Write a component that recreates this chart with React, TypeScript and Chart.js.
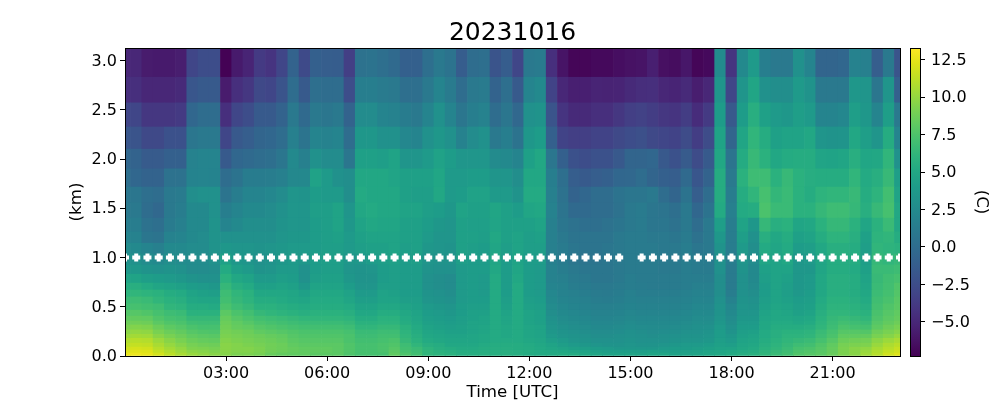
import { useEffect, useRef } from "react";
import { Chart, registerables } from "chart.js";

Chart.register(...registerables);

const chartTitle = "20231016";
const colorMin = -7.27;
const colorMax = 13.27;
const xTicks = [180, 360, 540, 720, 900, 1080, 1260];
const yTicks = [0, 0.5, 1, 1.5, 2, 2.5, 3];
const colorTicks = [-5, -2.5, 0, 2.5, 5, 7.5, 10, 12.5];
const columnMinutes = [0,20,40,60,80,100,120,140,160,180,200,220,240,260,280,300,320,340,360,380,400,420,440,460,480,500,520,540,560,580,600,620,640,660,680,700,720,740,760,780,800,820,840,860,880,900,920,940,960,980,1000,1020,1040,1060,1080,1100,1120,1140,1160,1180,1200,1220,1240,1260,1280,1300,1320,1340,1360,1380];
const dotMinutes = [0,20,40,60,80,100,120,140,160,180,200,220,240,260,280,300,320,340,360,380,400,420,440,460,480,500,520,540,560,580,600,620,640,660,680,700,720,740,760,780,800,820,840,860,880,920,940,960,980,1000,1020,1040,1060,1080,1100,1120,1140,1160,1180,1200,1220,1240,1260,1280,1300,1320,1340,1360,1380];
const dotKm = 1.0;
// level edges, km, from the ground up
const levelEdges = [0,0.03,0.06,0.09,0.13,0.18,0.22,0.265,0.315,0.355,0.405,0.465,0.53,0.6,0.67,0.74,0.83,0.925,1.035,1.145,1.26,1.4,1.555,1.715,1.9,2.1,2.325,2.57,2.83,3.127];

// temperature rows, top level first
const r00 = [-5,-5,-5.7,-5.8,-5.8,-5.6,-3,-2.5,-2.5,-7.2,-5.8,-5.2,-3.8,-4.2,-3,-0.8,-2.7,-1,-1.2,-1.3,-3.5,0.4,0.5,0.2,-0.2,-1,-1,0.2,1,0.5,-1.3,0,0.2,-2,-1.3,-3,1,1.2,-4.5,-6.2,-7,-7,-6.8,-6.8,-6.5,-6.3,-6.2,-5.5,-6.4,-6.6,-6,-7,-6.8,2.5,-4.2,2.4,3.8,1.5,1,1,3,2,-0.6,-0.6,-0.5,1.8,1.6,-1.2,1,-2];
const r01 = [-4.5,-4.5,-5,-5,-5,-4.8,-1.8,-1.5,-1.5,-5.7,-4.5,-4,-2.8,-3,-2,0,-1.5,0.2,0,0,-2.5,1.5,1.5,1.2,1,0.2,0.2,1,2,1.2,0,1,1.2,-0.8,0.2,-1.5,2,2.4,-3.2,-5,-5.5,-5.5,-5.2,-5.3,-5.2,-4.8,-4.6,-4.5,-5,-5.2,-4.8,-5.6,-5,3.4,-3,3.4,4.8,3,2.8,2.8,3.8,3.2,1,1,1,3.6,3.4,0.8,3.4,-1];
const r02 = [-3,-3,-4,-4,-4,-3.8,-0.5,0,0,-4.5,-3,-2.5,-1.5,-1.5,-0.8,1,-0.2,1,0.8,1,-0.8,2.6,2.6,2,1.8,1.3,1,2,3,2,0.8,1.5,1.8,0,0.8,-0.4,3,3.2,-2,-4.2,-4.8,-4.8,-4.5,-4.5,-4,-3.5,-3.3,-3.6,-4,-4.2,-3.6,-4.7,-3.8,4,-1.6,4,5.6,4.4,3.8,3.6,4.2,3.8,2,2,2.2,4.2,3.6,2,4.2,1];
const r03 = [-1.8,-2,-2.8,-2.8,-2.2,-2.2,0.8,1,1,-3,-1.6,-1.2,-0.6,-0.5,0,1.6,0.6,2,1.8,2,0,3.6,3.6,3,3,2.2,2,3,3.6,3,1.8,2.6,3,1,1.5,0.5,3.6,4,-1,-3.2,-3.5,-3.5,-3.2,-3.2,-2.8,-2.5,-2.3,-2.8,-3,-3.2,-2.6,-3.6,-2.6,4.6,-0.6,4.8,6.2,5.4,4.4,4.6,4.6,5,3.4,3.2,3.3,5,4.2,3.4,5.4,2];
const r04 = [-0.5,-0.8,-1.4,-1.4,-1,-1,1.8,2,2,-1.5,-0.5,-0.2,0,0.2,0.8,2.4,1.6,3,2.6,2.6,0.8,4.4,4.4,4.2,4.6,3.4,3.4,3.8,4.5,4,3.5,3.5,3.5,2.5,2.4,2,4.4,5,0.8,-1,-2.2,-2.5,-2.2,-2.2,-1.6,-0.6,-0.6,-0.5,-1.6,-2.2,-1.4,-2.6,-1.5,5,0.6,5.3,6.5,5.8,5,5.3,5.4,5.4,4.7,4.6,4.8,5.6,4.9,5,6.2,3];
const r05 = [0.2,-0.5,-0.8,-0.8,0.4,0.4,1.9,2,1.9,0,0.5,1.3,1.3,1.4,1.6,2.3,2.3,4.5,3.8,3,2.8,5,5,5,4.7,4.4,4.4,4.4,4.9,3.8,3.8,4,4,3.4,3.4,2.8,5,5,1.5,0.2,-1.2,-1.5,-1.2,-1,-0.5,-0.4,0,-0.6,-1,-1.2,-0.2,-1.8,-0.8,5.4,1,5.8,6.8,6.8,5.8,6.5,5.8,5.5,5.4,5.4,5.4,6.2,5.2,5.6,6.5,4.2];
const r06 = [0.8,0.8,0.2,0,1,1.2,2.8,3,3,0.6,1.4,2,2,2.2,2.6,3.4,3.2,4,3.8,3.8,2.8,5.2,5,5,5,4.4,4.2,4.2,5,3.8,4,4.5,4.5,3.8,3.8,3.2,5.2,5.2,1.6,0.4,-0.8,-0.5,0,0,0.5,0.8,0.8,1,0,-0.6,0.5,-1.2,0,5.4,1.4,5.4,6.2,7.2,6.3,6.6,5.8,5.4,6,6.2,6.2,6.5,5.4,6,7,4.6];
const r07 = [1,1,0,-0.4,1,1.4,2.4,2.4,3,1.5,2,2.4,2.4,2.6,3,3.5,3.4,4.2,4.2,4.6,3.4,5,5.2,5,5,4.6,4.6,4.2,4,3.6,4.6,4.4,4.4,4.8,4.4,4,4.8,5,1.8,0.6,-0.2,-0.2,0,0,0.4,1,1.2,0.8,0.6,0.2,1,-0.5,0.5,5.2,1.6,5.2,5.4,7.4,6.6,6.6,5.8,5.8,6.4,6.8,6.8,6.4,5.6,6.5,7.2,5];
const r08 = [1.4,1.4,0.4,0.2,1.2,1.6,2.4,2.4,3.2,2,2.4,2.8,2.8,2.8,3.2,3.5,3.4,4,4.2,4.6,3.6,4.6,5,4.8,4.8,4.4,4.4,4,3.6,3.4,4.4,4.3,4.3,4.7,4.4,4.4,4.4,4.6,1.6,0.8,0.4,0.2,0.2,0.4,0.7,1,1.2,0.8,0.8,0.4,1,0,1,4.2,1.4,4.6,3.6,6.4,5.6,5.8,4.8,5,5.8,6.4,6.4,5.8,4.8,5.8,6.6,5];
const r09 = [2,1.8,0.8,0.6,1.8,2,2.4,2.6,3.2,3,3,3,3,3,3.4,3.6,3.6,4,4.2,4.4,3.8,4.4,4.6,4.6,4.6,4.4,4.4,3.8,3.4,3.4,4.4,4.4,4.2,5,4.4,4.6,4.2,4.4,1.6,1,0.6,0.6,0.6,0.6,1,1.2,1.2,1,1,0.8,1.2,0.4,1,3.6,1.4,4.2,3,5.6,5,5.4,4.4,4.6,5.4,6,6,5.6,4.4,6,6.2,5.4];
const r10 = [2.6,2.4,2,1.6,2.4,2.4,2.6,2.6,3.2,3.6,3.4,3.4,3.2,3.4,3.6,3.8,3.8,4,4.2,4.2,3.8,4.2,4.4,4.4,4.6,4.2,4.4,3.6,3.4,3.2,4.4,4.2,4,4.8,4.2,4.6,4.2,4.2,1.6,1.2,0.8,0.6,0.6,0.8,1,1.2,1.2,1.2,1,1,1.4,0.8,1,3.2,1.4,3.8,2.8,5.2,4.8,5.2,4,4.2,5,5.6,5.6,5.4,4.2,6.2,6,5.8];
const r11 = [3,3,2.6,2.4,2.8,2.6,2.6,2.6,3,4.4,3.6,3.4,3,3.2,3.6,3.8,3.6,4,4.2,4.2,3.6,3.6,4,4.2,4.4,4,4.2,3.4,3.2,3.2,4.2,4,4,4.8,4,4.6,4,4,1.6,1.2,0.8,0.6,0.6,0.8,1,1.2,1.2,1.2,1,1,1.4,1.2,1.2,3,1.4,3.4,2.6,4.8,4.6,5,3.6,3.8,4.8,5.4,5.4,5.4,4.2,6.4,6.2,6.4];
const r12 = [3.6,3.6,3.2,3,3.2,3,2.6,2.6,2.8,5.2,4.2,3.8,3.2,3.4,3.8,3.8,3,4,4.2,4.2,3.4,3.2,3.4,4,4.2,4,4,3.2,3,3,3.8,4,4,5,4,4.8,4,3.8,1.8,1.4,1,0.8,0.8,0.8,1,1.2,1.2,1.2,1,1,1.4,1.2,1.2,3,1.2,3.2,2.4,4.4,4.6,4.6,3.6,3.6,4.8,5.4,5.4,5.2,4.4,6.6,6.6,6.8];
const r13 = [4.6,4.6,4.2,4,3.8,3.6,3.2,3,3,5.8,5,4.6,3.8,3.8,4.2,4,3,4.2,4.4,4.4,3.6,3.2,3.2,4,4.2,4,4,3,2.8,2.6,3.8,4,3.8,5.2,4,5,4,3.8,1.8,1.6,1.2,1,0.8,0.8,1,1.4,1.2,1.2,1.2,1.2,1.4,1.4,1.4,2.8,1.2,3,2.4,4.2,4.6,4.4,3.6,3.8,5,5.6,5.6,5.4,4.6,6.5,6.9,7.2];
const r14 = [5.4,5.6,5.2,4.8,4.6,4.4,4,3.8,3.6,6.4,5.6,5.2,4.4,4.4,4.6,4.4,3.6,4.6,4.6,4.6,4,3.4,3.4,4.2,4.2,4,4,3,2.8,2.6,3.8,4,3.8,5.2,4,5.2,4,3.8,2,1.8,1.4,1.2,1,1,1.2,1.4,1.3,1.2,1.2,1.2,1.4,1.6,1.6,2.8,1.2,3,2.5,4,4.6,4.2,3.6,3.8,5,5.6,5.6,5.4,4.8,6.6,7,7.6];
const r15 = [6,6.2,6,5.8,5.4,5.2,4.6,4.4,4.2,6.8,6.2,5.8,5,5,5,4.8,4.4,5,5,5,4.5,3.8,3.8,4.5,4.4,4,4,3.2,3,2.8,3.8,4,3.8,5.2,4,5.2,4,3.8,2.2,1.8,1.6,1.4,1.2,1.1,1.3,1.6,1.4,1.4,1.4,1.4,1.6,1.8,1.8,2.8,1.4,3,2.8,4,4.6,4.2,3.7,4,5,5.6,5.6,5.4,5,6.7,7.1,7.7];
const r16 = [6.6,6.8,6.6,6.2,5.8,5.6,5,4.8,4.8,7,6.4,6,5.4,5.4,5.2,5,4.8,5.2,5.2,5.2,4.8,4.2,4.2,4.6,4.6,4.2,4.2,3.4,3.2,3,3.8,4,4,5.2,4.2,5.2,4.2,4,2.4,2,1.8,1.6,1.4,1.3,1.5,1.7,1.6,1.6,1.6,1.6,1.8,2,2,3,1.8,3.2,3,4.2,4.6,4.4,4,4.2,5.2,5.8,5.8,5.6,5.2,6.9,7.3,7.9];
const r17 = [7,7.2,7,6.8,6.2,6,5.4,5.4,5.2,7.4,6.8,6.4,5.8,5.8,5.6,5.4,5.2,5.4,5.4,5.4,5.2,4.6,4.6,5,5,4.6,4.4,3.8,3.6,3.4,4,4.2,4.2,5.2,4.4,5.2,4.4,4.2,2.6,2.2,2,1.8,1.6,1.6,1.7,1.9,1.8,1.8,1.8,1.8,2,2.2,2.2,3.2,2.2,3.4,3.2,4.4,4.8,4.6,4.2,4.4,5.4,6,6,5.8,5.5,7.1,7.6,8];
const r18 = [7.7,7.8,7.6,7.2,6.8,6.6,5.8,5.8,5.8,8,7.4,7,6.4,6.2,6,5.8,5.6,5.8,5.8,5.8,5.6,5,5,5.4,5.4,5,4.6,4,3.8,3.6,4,4.4,4.4,5.2,4.6,5.2,4.6,4.4,2.8,2.4,2.2,2,1.8,1.8,1.9,2.1,2,2,2,2,2.2,2.4,2.4,3.2,2.4,3.4,3.4,4.6,5,4.8,4.4,4.6,5.6,6.2,6.2,6,5.8,7.3,7.8,8.2];
const r19 = [8.2,8.3,8.2,7.6,7.2,7,6.4,6.4,6.4,8.4,7.8,7.4,7,6.8,6.6,6.4,6.2,6.2,6.2,6.2,6,5.4,5.4,5.8,5.8,5.2,4.8,4.2,4,3.8,4.2,4.4,4.6,5.2,4.8,5.2,4.6,4.4,3,2.6,2.4,2.2,2,2,2.1,2.3,2.2,2.2,2.2,2.2,2.4,2.6,2.6,3.4,2.6,3.6,3.6,4.8,5,5,4.8,5,5.8,6.4,6.6,6.4,6.2,7.5,8,8.4];
const r20 = [8.7,8.8,8.7,8,7.6,7.4,6.9,6.8,6.8,8.6,8.2,7.8,7.4,7.2,7,6.8,6.6,6.6,6.6,6.6,6.4,5.8,5.8,6,6,5.4,5,4.4,4.2,4,4.2,4.6,4.6,5.2,4.8,5.2,4.6,4.4,3.2,2.8,2.6,2.4,2.2,2.2,2.3,2.5,2.4,2.4,2.4,2.4,2.6,2.8,2.8,3.6,2.8,3.8,3.8,5,5.2,5.2,5,5.2,6,6.6,7,6.8,6.6,7.8,8.3,8.7];
const r21 = [9.2,9.4,9.3,8.6,8.1,7.8,7.4,7.2,7.2,8.8,8.4,8.2,7.8,7.6,7.4,7.2,7,7,7,7,6.8,6.2,6.2,6.4,6.4,5.8,5.2,4.6,4.4,4.2,4.4,4.6,4.8,5.2,5,5.2,4.8,4.6,3.4,3,2.8,2.6,2.4,2.4,2.5,2.7,2.6,2.5,2.5,2.6,2.8,2.9,3,3.8,3,4,4,5,5.4,5.4,5.4,5.6,6.2,6.8,7.4,7.2,7.1,8.1,8.7,9.1];
const r22 = [9.7,9.9,9.8,9.1,8.6,8.3,7.8,7.6,7.5,9,8.8,8.6,8.2,8,7.8,7.6,7.4,7.4,7.4,7.4,7.2,6.6,6.6,6.8,6.8,6,5.4,4.8,4.6,4.4,4.4,4.6,4.8,5.2,5,5.2,4.8,4.6,3.6,3.2,3,2.8,2.6,2.6,2.7,2.9,2.8,2.6,2.7,2.8,3,3,3.2,4,3.2,4.2,4.4,5.2,5.6,5.8,5.8,6,6.6,7.2,7.8,7.8,7.7,8.7,9.1,9.5];
const r23 = [10.2,10.4,10.3,9.6,9.1,8.7,8.2,8,7.9,9.2,9,8.8,8.6,8.4,8.2,7.8,7.6,7.6,7.6,7.6,7.4,6.8,6.8,7,7,6.2,5.6,5,4.8,4.6,4.6,4.8,5,5.2,5,5.2,4.8,4.6,3.8,3.4,3.2,3,2.8,2.8,2.9,3,2.9,2.8,2.9,3,3.2,3.2,3.4,4,3.6,4.4,4.6,5.2,5.6,6,6,6.2,6.8,7.4,8.2,8.2,8.3,9.1,9.5,10];
const r24 = [10.8,11,10.9,10.2,9.6,9.1,8.6,8.4,8.3,9.4,9.2,9,8.8,8.6,8.4,8,7.8,7.8,7.8,7.8,7.4,7,7,7.2,7.4,6.4,5.8,5.2,5,4.8,4.8,4.8,5,5.2,5.2,5.2,5,4.8,4.2,3.8,3.4,3.2,3,3,3,3.2,3,3,3,3.2,3.4,3.4,3.6,4.2,3.8,4.6,4.8,5.4,5.8,6.2,6.4,6.6,7.2,7.8,8.6,8.8,8.9,9.7,10.2,10.6];
const r25 = [11.2,11.4,11.3,10.6,10,9.5,9,8.8,8.7,9.6,9.4,9.2,9,8.8,8.6,8.2,8,8,8,8,7.6,7.2,7.2,7.4,7.6,6.8,6.2,5.6,5.4,5,5,5,5.2,5.4,5.4,5.4,5.2,5,4.6,4.2,3.8,3.6,3.4,3.2,3.2,3.4,3.2,3.2,3.4,3.6,3.8,3.8,4,4.4,4.2,4.8,5,5.6,6,6.4,6.8,7,7.6,8.2,9,9.2,9.3,10.1,10.7,11.1];
const r26 = [11.7,11.9,11.8,11,10.4,9.9,9.3,9.2,9,9.6,9.4,9.4,9.2,8.8,8.6,8.4,8.2,8.2,8.2,8,7.6,7.2,7.2,7.4,7.8,7,6.6,6,5.6,5.4,5.2,5.2,5.4,5.5,5.5,5.4,5.3,5.1,4.9,4.6,4.4,4.2,4,3.8,3.6,3.6,3.6,3.6,3.8,4,4,4.2,4.4,4.6,4.6,5,5.2,5.8,6.2,6.6,7.2,7.4,7.8,8.4,9.2,9.6,9.8,10.5,11,11.5];
const r27 = [12.1,12.3,12.2,11.4,10.8,10.2,9.7,9.5,9.3,9.6,9.4,9.4,9.2,8.8,8.6,8.4,8.2,8.2,8.2,8,7.6,7.2,7.2,7.4,8,7.2,6.8,6.2,5.8,5.6,5.4,5.4,5.5,5.6,5.6,5.5,5.4,5.2,5.1,5,4.8,4.6,4.4,4.2,4.2,4.2,4.2,4.4,4.2,4.2,4.3,4.4,4.6,4.8,5,5.2,5.4,6,6.4,6.8,7.4,7.6,7.9,8.4,9.2,9.6,10.1,10.8,11.4,11.8];
const r28 = [12.6,12.7,12.5,11.9,11.2,10.6,10.1,9.8,9.6,9.5,9.2,9.2,9,8.5,8.3,8.2,8.2,8,8,8,7.5,7.2,7.2,7.2,8.2,7.5,7,6.2,6,5.8,5.5,5.5,5.6,5.6,5.6,5.5,5.3,5.2,5.2,5.3,5.3,5,4.8,4.6,4.6,4.7,4.6,4.8,4.8,4.5,4.5,4.6,4.8,5,5.2,5.5,5.7,6.2,6.6,7,7.6,7.8,8,8.5,9.2,9.6,10.3,11,11.8,12.2];

const levelRows = [r28,r27,r26,r25,r24,r23,r22,r21,r20,r19,r18,r17,r16,r15,r14,r13,r12,r11,r10,r09,r08,r07,r06,r05,r04,r03,r02,r01,r00];

const viridis = ["#440154","#471365","#482475","#463480","#414487","#3b528b","#355f8d","#2f6c8e","#2a788e","#25848e","#21918c","#1e9c89","#22a884","#2fb47c","#44bf70","#5ec962","#7ad151","#9bd93c","#bddf26","#dfe318","#fde725"];

function rgb(hex: string) {
  return [1, 3, 5].map((i) => parseInt(hex.slice(i, i + 2), 16));
}
function colorFor(v: number) {
  const f = Math.max(0, Math.min(1, (v - colorMin) / (colorMax - colorMin))) * (viridis.length - 1);
  const i = Math.min(viridis.length - 2, Math.floor(f));
  const a = rgb(viridis[i]);
  const b = rgb(viridis[i + 1]);
  const t = f - i;
  const c = a.map((x, k) => Math.round(x + (b[k] - x) * t));
  return `rgb(${c[0]},${c[1]},${c[2]})`;
}

const FONT = "'DejaVu Sans'";
const TICK = 16;
const LABEL = 16.67;

const framePlugin = {
  id: "frame",
  afterDraw(chart: any) {
    const { ctx, chartArea: a } = chart;
    ctx.save();
    ctx.strokeStyle = "#000";
    ctx.lineWidth = 1;
    ctx.strokeRect(Math.round(a.left) + 0.5, Math.round(a.top) + 0.5, Math.round(a.right - a.left), Math.round(a.bottom - a.top));
    ctx.restore();
  },
};

export default function App() {
  const mainRef = useRef<HTMLCanvasElement>(null);
  const barRef = useRef<HTMLCanvasElement>(null);

  useEffect(() => {
    Chart.defaults.font.family = FONT;
    Chart.defaults.color = "#000";

    const cellSets: any[] = levelRows.map((row, r) => ({
      type: "bar",
      data: row.map((v, c) => ({ x: columnMinutes[c], y: [levelEdges[r], levelEdges[r + 1]] })),
      backgroundColor: row.map(colorFor),
      borderWidth: 0,
      barPercentage: 1,
      categoryPercentage: 1,
      grouped: false,
      yAxisID: "y",
      order: 2,
    }));

    const main = new Chart(mainRef.current!, {
      type: "bar",
      data: {
        datasets: [
          ...cellSets,
          {
            type: "scatter",
            data: dotMinutes.map((m) => ({ x: m, y: dotKm })),
            pointStyle: "cross",
            pointRadius: 4,
            borderColor: "#fff",
            pointBorderColor: "#fff",
            pointBorderWidth: 4,
            showLine: false,
            clip: 0,
            yAxisID: "y",
            order: 1,
          },
        ],
      },
      options: {
        animation: false,
        responsive: false,
        events: [],
        layout: { padding: { left: 25, right: 0, top: 0, bottom: 0 } },
        plugins: {
          legend: { display: false },
          tooltip: { enabled: false },
          title: {
            display: true,
            text: chartTitle,
            color: "#000",
            font: { family: FONT, size: 25, weight: "normal", lineHeight: 1.2 },
            padding: { top: 18, bottom: 0 },
          },
        },
        scales: {
          x: {
            type: "linear",
            min: 0,
            max: 1380,
            offset: false,
            afterBuildTicks: (s: any) => { s.ticks = xTicks.map((value) => ({ value })); },
            afterFit: (s: any) => { s.height = 44; },
            grid: { drawOnChartArea: false, offset: false, tickLength: 5, tickColor: "#000", tickWidth: 1 },
            border: { display: false },
            ticks: {
              maxRotation: 0,
              autoSkip: false,
              padding: 3,
              color: "#000",
              font: { family: FONT, size: TICK },
              callback: (v: any) => `${String(Math.floor(Number(v) / 60)).padStart(2, "0")}:00`,
            },
            title: { display: true, text: "Time [UTC]", color: "#000", font: { family: FONT, size: LABEL, lineHeight: 0.85 }, padding: { top: 0, bottom: 0 } },
          },
          y: {
            min: 0,
            max: 3.127,
            afterBuildTicks: (s: any) => { s.ticks = yTicks.map((value) => ({ value })); },
            afterFit: (s: any) => { s.width = 100; },
            grid: { drawOnChartArea: false, tickLength: 5, tickColor: "#000", tickWidth: 1 },
            border: { display: false },
            ticks: {
              autoSkip: false,
              padding: 3,
              labelOffset: 1,
              color: "#000",
              font: { family: FONT, size: TICK },
              callback: (v: any) => Number(v).toFixed(1),
            },
            title: { display: true, text: "(km)", color: "#000", font: { family: FONT, size: LABEL }, padding: { top: 42, bottom: 0 } },
          },
          gutter: {
            position: "right",
            display: true,
            afterFit: (s: any) => { s.width = 100; },
            grid: { display: false },
            border: { display: false },
            ticks: { display: false },
          },
        },
      } as any,
      plugins: [framePlugin],
    } as any);

    const bar = new Chart(barRef.current!, {
      type: "bar",
      data: {
        labels: ["C"],
        datasets: [
          {
            data: [[colorMin, colorMax]],
            borderWidth: 0,
            barPercentage: 1,
            categoryPercentage: 1,
            backgroundColor: (c: any) => {
              const a = c.chart.chartArea;
              if (!a) return "#21918c";
              const g = c.chart.ctx.createLinearGradient(0, a.bottom, 0, a.top);
              viridis.forEach((h, i) => g.addColorStop(i / (viridis.length - 1), h));
              return g;
            },
          },
        ],
      },
      options: {
        animation: false,
        responsive: false,
        events: [],
        layout: { padding: { left: 10, right: 0, top: 48, bottom: 44 } },
        plugins: { legend: { display: false }, tooltip: { enabled: false } },
        scales: {
          x: { display: false },
          y: {
            position: "right",
            min: colorMin,
            max: colorMax,
            afterBuildTicks: (s: any) => { s.ticks = colorTicks.map((value) => ({ value })); },
            afterFit: (s: any) => { s.width = 80; },
            grid: { drawOnChartArea: false, tickLength: 5, tickColor: "#000", tickWidth: 1 },
            border: { display: false },
            ticks: {
              autoSkip: false,
              padding: 6,
              labelOffset: 1,
              color: "#000",
              font: { family: FONT, size: TICK },
              callback: (v: any) => Number(v).toFixed(1).replace("-", "\u2212"),
            },
            title: { display: true, text: "(C)", color: "#000", font: { family: FONT, size: LABEL }, padding: { top: 9, bottom: 0 } },
          },
        },
      } as any,
      plugins: [framePlugin],
    } as any);

    return () => {
      main.destroy();
      bar.destroy();
    };
  }, []);

  return (
    <div style={{ position: "fixed", left: 0, top: 0, width: 1000, height: 400, background: "#fff" }}>
      <canvas ref={mainRef} width={1000} height={400} style={{ position: "absolute", left: 0, top: 0 }} />
      <canvas ref={barRef} width={100} height={400} style={{ position: "absolute", left: 900, top: 0 }} />
    </div>
  );
}
